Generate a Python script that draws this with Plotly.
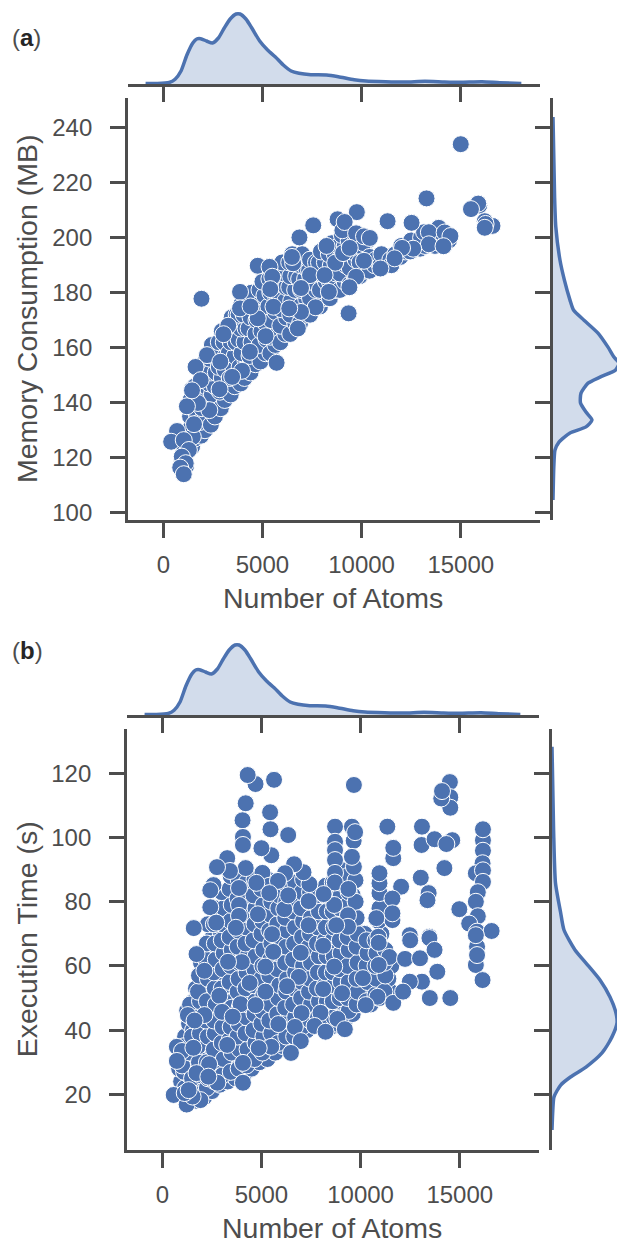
import plotly.graph_objects as go

# ---- values ----
kde_atoms = [-893,-298,298,595,893,1190,1488,1686,1885,2182,2480,2778,3075,3373,3670,3869,4166,4464,4861,5258,5654,6051,6448,6845,7440,8234,8829,9622,10218,11210,12202,13194,14186,14979,16070,16963,18054]
kde_atoms_density = [0.5,0.5,1.5,4.7,13,29,41,45,45.3,43,41,46,56,65,70,70,65,56,43,34,27,19,13,10.7,9.3,9,7.3,4.3,3,2.3,2,2.7,2,1.7,2.3,1.3,0.6]

kde_mem = [243.9,214.8,203.9,191.8,184.6,177.3,173.7,170,165.3,160.2,156.6,154.4,151.9,149.3,147.1,143.5,139.9,136.6,133.7,131.2,129,125.7,122.8,116.6,104.6]
kde_mem_density = [0,1.6,2.8,7,11.4,17,20.5,31,45,55,61,66,62.6,47,35,28,27.5,33,39,33,17,6,2,0.8,0]

kde_time = [128.3,102.3,85.8,76.5,71.2,65,60.9,55.6,50.3,45.3,42.2,37.9,32.9,28.5,25.4,22.9,19.2,15,8.9]
kde_time_density = [0,1.6,3.5,8.7,12,23,34,48,58,64,65,60,50,34,18.5,8.7,2,0.8,0]

mem_back = [(1050,115),(1150,117),(950,119),(1200,122),(1050,124),(1300,125),(1250,128),
(1450,124),(1600,127),(1400,131),(1650,131),(1350,135),(1700,135),(1500,138),(1380,141),(1650,141),(1450,145),(1600,146),
(1900,128),(2100,130),(1850,133),(2150,135),(1950,138),(1800,143),(2100,141),(1900,147),(2150,146),(1950,151),(2100,155),
(2400,132),(2600,135),(2350,138),(2650,140),(2450,143),(2300,147),(2600,146),(2400,151),(2650,151),(2350,156),(2550,157),(2450,161),
(2900,138),(3100,141),(2850,144),(3150,146),(2950,149),(2800,153),(3100,152),(2900,158),(3150,157),(2800,162),(3050,162),(2950,166),
(3400,143),(3600,146),(3350,149),(3650,151),(3450,154),(3300,158),(3600,157),(3400,162),(3650,162),(3300,167),(3550,167),(3450,171),(3700,172),
(3900,147),(4100,149),(3850,153),(4150,155),(3950,158),(3800,163),(4100,162),(3900,167),(4150,167),(3800,172),(4050,172),(3950,176),(4200,177),
(4400,151),(4650,154),(4350,157),(4700,159),(4450,162),(4300,167),(4650,165),(4400,171),(4700,170),(4350,176),(4600,175),(4450,180),
(4900,155),(5150,158),(4850,161),(5200,163),(4950,166),(4800,171),(5150,169),(4900,176),(5200,174),(4850,181),(5100,179),(5000,184),
(5400,158),(5650,161),(5400,164),(5700,167),(5450,170),(5300,175),(5650,173),(5400,180),(5700,178),(5350,185),(5600,183),(5500,188),
(5900,162),(6150,165),(5900,168),(6200,171),(5950,174),(5800,178),(6150,177),(5900,183),(6200,182),(5850,188),(6100,187),(6000,191),
(6400,165),(6650,169),(6400,172),(6700,174),(6450,177),(6350,182),(6650,181),(6400,186),(6700,186),(6350,191),(6600,191),(6500,194),
(6900,169),(7150,172),(6900,175),(7200,178),(6950,181),(6850,185),(7150,185),(6900,190),(7200,189),(7000,194),
(7400,172),(7650,175),(7400,178),(7700,181),(7450,184),(7350,188),(7650,187),(7400,192),(7700,191),
(7900,175),(8150,178),(7900,181),(8200,184),(7950,187),(7850,191),(8150,191),(7950,195),
(8400,178),(8650,181),(8400,184),(8700,187),(8450,190),(8350,194),(8650,194),(8500,198),
(8900,181),(9150,184),(8900,187),(9200,190),(8950,193),(8850,197),(9150,197),(9000,201),
(9400,183),(9650,186),(9400,189),(9700,192),(9450,195),(9350,199),(9650,198),
(9900,186),(10150,188),(9900,191),(10200,194),(9950,197),(10300,199),(10100,198),
(10400,188),(10650,190),(10400,193),(10700,192),
(10950,190),(11200,191),(11000,194),(11450,192),(11700,194),(11500,190),
(11950,193),(12200,195),(12000,197),(12450,195),(12700,197),(12500,199),(12950,196),(13200,197),(13000,200),(13150,202),(13500,198),(13700,197),(13600,201),(13950,198),(14200,199),(14000,202),(14400,199)]

mem_front = [(15930,211.7),(15880,212.4),(16600,204.3),(16210,206),(16250,205),(16210,203.6),(15515,210.4),(15000,234),(1925,177.8),(13273,214.3),
(9760,209.3),(8790,206.7),(9030,202.7),(9146,205.7),(11310,206),(12520,205.4),(7560,204.5),(6865,200.1),(8234,197),(9722,201.6),(10120,200.5),(10416,199.9),
(13890,203.6),(13392,202),(14186,201.9),(14480,200.6),(13392,197.6),(14130,196.9),(12600,196),(12040,196.3),(11665,192.5),(10950,188.8),(10120,191.6),(8670,190.9),(9067,194.4),(9400,196.3),(9722,185.8),(9384,182),(9345,172.5),(8350,180.3),(7400,186.4),(8134,186.4),(6547,190.7),(6488,193),(6944,181.7),(4762,189.8),(5357,189.4),(5495,185.8),(5397,181.3),(3869,180.3),(3869,174.3),(5555,174.9),(7678,174.7),(6944,173),(6350,174.3),(4762,170.7),(4400,175),(5714,154.5),(6785,167),(5159,164.2),(3274,168),(3036,164.9),(2202,157.3),(4365,158.5),(2876,154.9),(3968,151.6),(3472,149.4),(1627,153),(1885,148.2),(2837,144.9),(2321,137.3),(1746,139.9),(1190,138.7),(1448,144.5),(1488,127.6),(1548,132.2),(694,129.7),(397,125.8),(1032,126.4),(1290,122.8),(932,120.4),(1131,118),(853,116.4),(1032,114)]

time_back = [(950,24),(850,28),(1000,32),(1300,18),(1150,22),(1350,26),(1200,30),(1300,34),(1150,38),(1350,42),(1250,46),
(1700,18),(1550,22),(1750,27),(1600,31),(1700,36),(1550,40),(1750,45),(1600,49),(1700,53),
(2100,19),(1950,23),(2150,28),(2000,33),(2100,37),(1950,42),(2150,47),(2000,52),(2100,56),(1950,61),
(2500,21),(2350,26),(2550,31),(2400,35),(2500,40),(2350,45),(2550,50),(2400,54),(2500,59),(2350,64),(2550,69),
(2900,23),(2750,28),(2950,33),(2800,37),(2900,42),(2750,47),(2950,51),(2800,56),(2900,61),(2750,65),(2950,70),(2800,75),
(3300,24),(3150,29),(3350,34),(3200,38),(3300,43),(3150,48),(3350,52),(3200,57),(3300,62),(3150,66),(3350,71),(3200,76),(3300,80),
(3700,25),(3550,30),(3750,35),(3600,39),(3700,44),(3550,49),(3750,53),(3600,58),(3700,63),(3550,67),(3750,72),(3600,77),(3700,81),
(4100,26),(3950,31),(4150,36),(4000,41),(4100,45),(3950,50),(4150,55),(4000,59),(4100,64),(3950,69),(4150,73),(4000,78),(4100,82),
(4500,28),(4350,33),(4550,37),(4400,42),(4500,47),(4350,51),(4550,56),(4400,61),(4500,65),(4350,70),(4550,75),(4400,79),(4500,84),(4350,88),
(4900,30),(4750,34),(4950,39),(4800,44),(4900,48),(4750,53),(4950,58),(4800,62),(4900,67),(4750,72),(4950,76),(4800,81),(4900,86),
(5300,31),(5150,36),(5350,41),(5200,45),(5300,50),(5150,55),(5350,59),(5200,64),(5300,69),(5150,73),(5350,78),(5200,83),(5300,87),
(5700,33),(5550,38),(5750,42),(5600,47),(5700,52),(5550,56),(5750,61),(5600,66),(5700,70),(5550,75),(5750,80),(5600,84),
(6100,35),(5950,40),(6150,44),(6000,49),(6100,54),(5950,58),(6150,63),(6000,68),(6100,72),(5950,77),(6150,82),
(6500,36),(6350,41),(6550,46),(6400,50),(6500,55),(6350,60),(6550,64),(6400,69),(6500,74),(6350,78),(6550,83),
(6900,38),(6750,43),(6950,47),(6800,52),(6900,57),(6750,61),(6950,66),(6800,71),(6900,75),(6750,80),(6950,84),
(7300,40),(7150,44),(7350,49),(7200,54),(7300,58),(7150,63),(7350,68),(7200,72),(7300,77),(7150,81),
(7700,42),(7550,46),(7750,51),(7600,56),(7700,60),(7550,65),(7750,70),(7600,74),(7700,79),
(8100,42),(7950,47),(8150,52),(8000,56),(8100,61),(7950,66),(8150,70),(8000,75),(8100,80),
(8500,41),(8350,46),(8550,51),(8400,55),(8500,60),(8350,65),(8550,69),(8400,74),(8500,78),
(8800,42),(8700,47),(8850,52),(8700,56),(8800,61),(8700,66),(8850,70),(8700,75),(8800,80),(8700,84),(8750,88),
(9200,43),(9100,48),(9250,53),(9100,57),(9200,62),(9100,67),(9250,71),(9100,76),(9200,80),(9300,84),
(9600,45),(9500,50),(9650,54),(9500,59),(9600,64),(9500,68),(9650,73),(9500,78),(9600,82),(9550,87),
(10050,48),(10200,53),(10000,58),(10150,62),(10050,66),(10200,70),
(10500,48),(10600,52),(10450,57),(10600,61),(10500,65),
(10950,50),(11050,54),(10900,58),(11050,62),(10950,66),(11050,70),(10900,74),(11000,78),(11500,52),(11400,56),(11550,60)]

time_mid = [(1050,20),(1100,27),(1000,29),(1100,35),(1450,20),(1500,25),(1400,33),(1500,38),(1450,44),(1400,48),
(1850,20),(1900,26),(1850,30),(1800,35),(1900,39),(1800,44),(1900,49),(1800,52),(1850,57),
(2250,22),(2300,25),(2250,30),(2300,38),(2200,43),(2250,49),(2300,56),(2200,62),(2250,67),(2300,73),
(2650,24),(2700,30),(2600,34),(2650,39),(2600,43),(2700,48),(2650,53),(2600,58),(2700,62),(2650,67),(2600,73),(2650,78),
(3050,26),(3100,31),(3000,36),(3050,41),(3100,46),(3000,53),(3050,59),(3100,64),(3000,68),(3050,73),(3100,78),(3000,83),
(3450,27),(3500,33),(3400,37),(3450,41),(3500,47),(3400,55),(3450,60),(3500,65),(3400,69),(3450,74),(3500,79),(3400,84),(3450,88),
(3850,28),(3900,34),(3800,38),(3850,42),(3900,47),(3800,52),(3850,56),(3900,61),(3800,66),(3850,71),(3900,76),(3800,81),(3850,87),
(4250,29),(4300,34),(4200,39),(4250,44),(4300,48),(4200,53),(4250,58),(4300,63),(4200,67),(4250,72),(4300,76),(4200,81),(4250,86),
(4650,31),(4700,36),(4600,40),(4650,45),(4700,49),(4600,54),(4650,59),(4700,63),(4600,68),(4650,73),(4700,78),(4600,82),(4650,87),
(5050,33),(5100,38),(5000,42),(5050,46),(5100,51),(5000,56),(5050,60),(5100,65),(5000,70),(5050,74),(5100,79),(5000,84),(5050,89),
(5450,35),(5500,39),(5400,43),(5450,48),(5500,53),(5400,57),(5450,62),(5500,67),(5400,71),(5450,76),(5500,80),(5400,85),
(5850,36),(5900,42),(5800,45),(5850,50),(5900,54),(5800,59),(5850,64),(5900,69),(5800,73),(5850,78),(5900,82),
(6250,38),(6300,43),(6200,47),(6250,52),(6300,56),(6200,61),(6250,66),(6300,71),(6200,75),(6250,80),(6300,85),
(6650,38),(6700,44),(6600,48),(6650,53),(6700,58),(6600,62),(6650,67),(6700,72),(6600,77),(6650,81),(6700,86),
(7050,41),(7100,46),(7000,50),(7050,55),(7100,60),(7000,64),(7050,69),(7100,74),(7000,78),(7050,83),(7100,87),
(7450,43),(7500,48),(7400,52),(7450,56),(7500,61),(7400,66),(7450,70),(7500,75),(7400,80),(7450,83),
(7850,44),(7900,49),(7800,53),(7850,58),(7900,63),(7800,67),(7850,72),(7900,77),(7800,82),
(8250,44),(8300,49),(8200,54),(8250,58),(8300,63),(8200,68),(8250,72),(8300,77),(8200,82),(8250,85),
(8650,44),(8600,49),(8650,54),(8600,58),(8650,63),(8600,68),(8650,72),(8600,77),(8650,82),(8600,86),
(9000,44),(8950,50),(9000,55),(8950,59),(9000,64),(8950,68),(9000,73),(8950,78),(9000,82),(8950,86),(9000,90),
(9400,46),(9350,50),(9400,55),(9350,60),(9400,65),(9350,69),(9400,74),(9350,79),(9400,83),(9350,88),
(9800,48),(9850,52),(9800,56),(9850,61),(9800,66),(9850,70),(9800,75),(9750,80),
(10300,49),(10350,55),(10300,60),(10350,64),(10300,68),(10750,51),(10800,56),(10750,60),(10800,64),(10750,68),(11200,52),(11250,57),(11200,61),(11250,65)]

time_front = [(4702,116.7),(4305,119.5),(5635,118),(4206,110.7),(4047,105.4),(5436,107.9),(5456,102.6),(6349,100.8),(4067,100.2),(4067,97.7),(9662,116.4),(8710,103.4),(9563,103.4),(9650,99),(9722,101.7),(8710,98.7),(8710,96.1),(8710,93),(8710,89),(8700,86),
(11348,103.4),(11646,93.6),(11646,96.8),(13094,103.4),(13075,97.7),(13729,99.5),(14622,99.2),(14324,98),(14225,90.5),(14503,117.3),(14523,112.6),(14523,109.3),(14066,112.2),(14106,114.5),
(16170,99.2),(16170,95.9),(16170,102.6),(16150,92),(15812,88.9),(16170,89.8),(16170,86.2),(15911,83),(15812,80),(15911,75.5),(15475,73.2),(14979,77.7),(15872,70.7),(16607,70.9),(13035,87.5),(13432,82.7),(13372,80.5),(12043,84.7),(10952,78),(10952,82.7),(10952,85.8),(10952,88.9),(11606,81),(11606,74.3),(11606,76.4),(10793,74.9),(10892,69.1),(12480,69.6),(13471,69.1),
(9741,86.7),(9662,90.9),(9563,94),(9384,84),(8670,79),(9364,75.8),(9364,72.2),(8769,72.7),(8134,82.4),(7420,85.5),(7380,80.2),(7380,72.7),(7122,89.2),(6646,91.7),(6190,88.9),(5833,86.5),(5496,94.5),(5000,96.7),(4206,90.5),(3274,93.6),(3412,89.6),(2758,90.8),(3869,84.3),(4742,85.9),(5397,82.7),(6150,77.7),(4821,76.1),(3869,79),(3869,75.6),(2580,85.2),(2420,83.6),(2420,78.3),(2718,73.5),(1587,71.8),(3710,71.9),(5535,69.9),(6349,82),
(1726,63.7),(2123,58.5),(10912,67.2),(12500,68),(13471,68.7),(11448,62.8),(12241,62.2),(13729,65),(12995,62.4),(13868,58.2),(13094,55.1),(12480,55.1),(13491,50),(14523,50),(11646,48.5),(12142,52),(10912,60.3),(10852,50.4),(10257,47.8),(10118,56.2),(15812,60.3),(15872,66),(15872,63.4),(16150,55.6),(15812,69.6),(8670,59.8),(6984,64.1),(8114,66.3),(5595,64.4),(4008,61.2),(3313,61.3),(5198,59.8),(6885,56.6),(4404,54.7),(5198,52),(6289,53.7),(8114,52.8),(9067,51.5),(2877,50.7),(3948,48.1),(7023,45.3),(7976,45.4),(8829,43.5),(7678,41.3),(6686,41),(9206,40.3),(8233,39.5),(6984,36.6),(6488,32.9),(5496,34.8),(4861,34.4),(3274,35.4),(4067,29.8),(4067,23.6),(2361,29.4),(2778,23.6),(2123,44.7),(1290,44.7),(1627,43),(3015,45.7),(3551,44.2),(4702,47.8),(5853,41.9),(734,34.8),(992,33.5),(734,30.4),(1567,34.5),(575,19.8),(1230,16.8),(1924,18.2),(1528,19.3),(1131,20.4),(1329,21.3),(1726,26.6),(2321,25.5)]

x_ticks = [0, 5000, 10000, 15000]
mem_ticks = [100, 120, 140, 160, 180, 200, 220, 240]
time_ticks = [20, 40, 60, 80, 100, 120]
mem_back_x, mem_back_y = zip(*mem_back)
mem_front_x, mem_front_y = zip(*mem_front)
time_back_x, time_back_y = zip(*(time_back + time_mid))
time_front_x, time_front_y = zip(*time_front)

# ---- style ----
W, H = 617, 1238
BLUE = "#4c72b0"
FILL = "rgba(76,114,176,0.25)"
GREY = "#4d4d4d"
FONT = "Liberation Sans"
LW = 2.8
TICK = 15
TICK_FS = 24
TITLE_FS = 28.5

def fx(a, b): return [a / W, b / W]
def fy(top, bottom): return [1 - bottom / H, 1 - top / H]

fig = go.Figure()

def dots(x, y, xa, ya):
    fig.add_trace(go.Scatter(x=list(x), y=list(y), xaxis=xa, yaxis=ya, mode="markers", showlegend=False,
                             marker=dict(size=17, color=BLUE, line=dict(color="white", width=1)), cliponaxis=False))

def label(text, px, py, angle=0, size=TITLE_FS, anchor="center"):
    fig.add_annotation(text=text, xref="paper", yref="paper", x=px / W, y=1 - py / H, xanchor=anchor, yanchor="middle",
                       showarrow=False, textangle=angle, font=dict(family=FONT, size=size, color=GREY))

def panel(i, left, right, m_top, m_bot, mar_top, mar_bot, side, xr, yr, yticks, ytitle, ykde, ydens, x_title_y):
    a = i * 3 + 1
    names = {"main": a, "top": a + 1, "side": a + 2}
    base = dict(showgrid=False, zeroline=False, showline=True, linecolor=GREY, linewidth=LW, automargin=False,
                ticks="outside", ticklen=TICK, tickwidth=LW, tickcolor=GREY, tickformat="d",
                tickfont=dict(family=FONT, size=TICK_FS, color=GREY))
    ax = lambda n: "" if n == 1 else str(n)
    lay = {}
    lay[f"xaxis{ax(names['main'])}"] = dict(base, domain=fx(left, right), range=xr, tickvals=x_ticks, anchor=f"y{ax(names['main'])}", ticklabelstandoff=6)
    lay[f"yaxis{ax(names['main'])}"] = dict(base, domain=fy(m_top, m_bot), range=yr, tickvals=yticks, anchor=f"x{ax(names['main'])}", ticklabelstandoff=13)
    lay[f"xaxis{ax(names['top'])}"] = dict(base, domain=fx(left, right), range=xr, tickvals=x_ticks, showticklabels=False, anchor=f"y{ax(names['top'])}")
    lay[f"yaxis{ax(names['top'])}"] = dict(domain=fy(mar_top, mar_bot), range=[0, mar_bot - mar_top], visible=False, automargin=False, anchor=f"x{ax(names['top'])}")
    lay[f"xaxis{ax(names['side'])}"] = dict(domain=fx(side, W), range=[0, W - side], visible=False, automargin=False, anchor=f"y{ax(names['side'])}")
    lay[f"yaxis{ax(names['side'])}"] = dict(base, domain=fy(m_top, m_bot), range=yr, tickvals=yticks, showticklabels=False, anchor=f"x{ax(names['side'])}")
    fig.update_layout(**lay)
    label("Number of Atoms", (left + right) / 2 - 1, x_title_y)
    label(ytitle, 27, (m_top + m_bot) / 2, angle=-90)
    fig.add_trace(go.Scatter(x=kde_atoms, y=kde_atoms_density, xaxis=f"x{ax(names['top'])}", yaxis=f"y{ax(names['top'])}", mode="lines",
                             line=dict(color=BLUE, width=3.5, shape="spline", smoothing=0.6), fill="tozeroy", fillcolor=FILL, showlegend=False))
    fig.add_trace(go.Scatter(x=ydens, y=ykde, xaxis=f"x{ax(names['side'])}", yaxis=f"y{ax(names['side'])}", mode="lines",
                             line=dict(color=BLUE, width=3.5, shape="spline", smoothing=0.6), fill="tozerox", fillcolor=FILL, showlegend=False))
    return ax(names["main"])

m1 = panel(0, 128, 540, 98, 520, 10, 84, 553, [-1780, 18996], [97.35, 250.8], mem_ticks, "Memory Consumption (MB)", kde_mem, kde_mem_density, 598)
dots(mem_back_x, mem_back_y, f"x{m1}", f"y{m1}")
dots(mem_front_x, mem_front_y, f"x{m1}", f"y{m1}")
m2 = panel(1, 127, 539, 728.5, 1150, 641, 715, 552, [-1780, 18996], [2.65, 134], time_ticks, "Execution Time (s)", kde_time, kde_time_density, 1227.5)
dots(time_back_x, time_back_y, f"x{m2}", f"y{m2}")
dots(time_front_x, time_front_y, f"x{m2}", f"y{m2}")

for tag, py in (("a", 38), ("b", 650)):
    label(f'(<b><span style="color:#262626">{tag}</span></b>)', 10, py, size=24, anchor="left")

fig.update_layout(width=W, height=H, margin=dict(l=0, r=0, t=0, b=0, autoexpand=False), paper_bgcolor="white", plot_bgcolor="white",
                  showlegend=False, font=dict(family=FONT, color=GREY))
page_fix = "document.body.style.margin='0';"
fig.write_html("out.html", config={"displayModeBar": False}, post_script=page_fix)
